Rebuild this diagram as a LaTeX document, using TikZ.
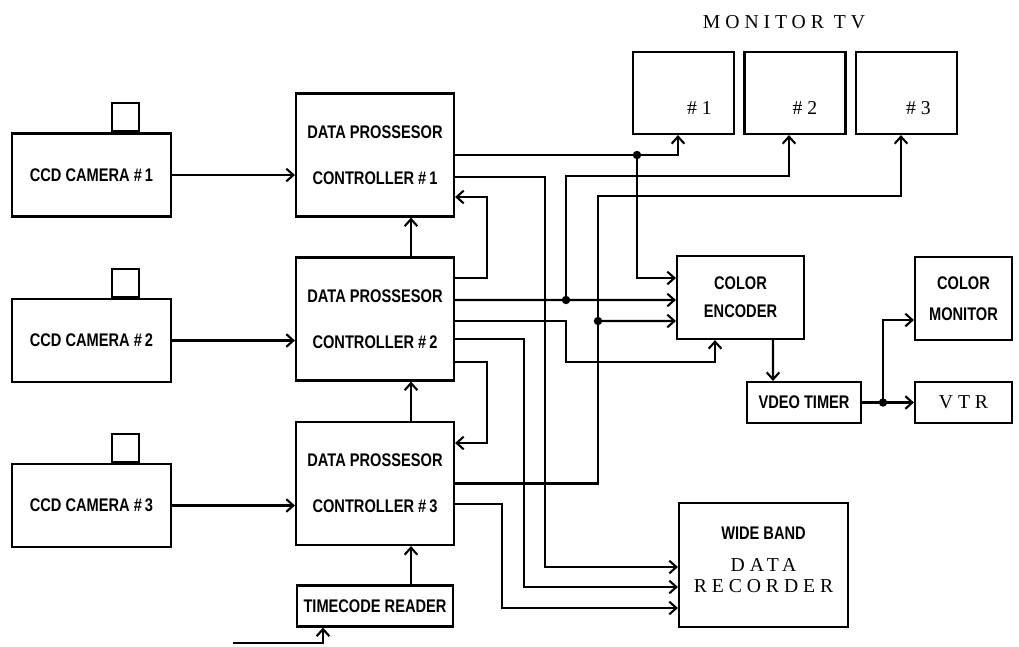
\documentclass[tikz,border=0pt]{standalone}
\usepackage{fontspec}
\setmainfont{Liberation Sans}
\newfontfamily\blockfont[FakeStretch=0.8]{Liberation Sans}
\newfontfamily\spacedfont[LetterSpace=25]{Liberation Serif}
\newcommand\tvfont{\spacedfont\mdseries\fontsize{14pt}{16pt}\selectfont}
\usetikzlibrary{calc}
\usetikzlibrary{arrows.meta}

\begin{document}
\begin{tikzpicture}[x=0.025cm, y=-0.025cm,
  line width=1.5pt,
  blk/.style={draw, inner sep=0pt, align=center, font=\blockfont\bfseries\fontsize{13pt}{15pt}\selectfont},
  cam/.style={blk, minimum width=3.975cm, minimum height=2.075cm},
  lens/.style={draw, inner sep=0pt, minimum width=0.675cm, minimum height=0.7cm},
  dps/.style={blk, minimum width=3.95cm, minimum height=3.075cm},
  slim/.style={blk, minimum height=1.025cm},
  tv/.style={draw, inner sep=0pt, minimum width=2.525cm, minimum height=2.05cm},
  sp/.style={inner sep=0pt, font=\tvfont},
  ar/.style={-{Straight Barb[length=5pt,width=9pt]}},
  dot/.style={circle, fill, inner sep=0pt, minimum size=6pt}
]
\useasboundingbox (0,0) rectangle (1019,646);

\node[sp] (title) at (784,22) {MONITOR TV};

\node[cam] (cam1) at (91.5,175)   {CCD CAMERA \#\,1};
\node[cam] (cam2) at (91.5,340.5) {CCD CAMERA \#\,2};
\node[cam] (cam3) at (91.5,505.5) {CCD CAMERA \#\,3};
\node[lens, anchor=south] (lens1) at ($(cam1.north)+(34,0)$) {};
\node[lens, anchor=south] (lens2) at ($(cam2.north)+(34,0)$) {};
\node[lens, anchor=south] (lens3) at ($(cam3.north)+(34,0)$) {};

\node[dps] (dp1) at (375,155)   {DATA PROSSESOR\\[18pt]CONTROLLER \#\,1};
\node[dps] (dp2) at (375,319)   {DATA PROSSESOR\\[18pt]CONTROLLER \#\,2};
\node[dps] (dp3) at (375,483.5) {DATA PROSSESOR\\[18pt]CONTROLLER \#\,3};
\node[slim, minimum width=3.9cm] (tr) at (375,606) {TIMECODE READER};

\draw[ar] (cam1.east) -- (cam1.east -| dp1.west);
\draw[ar] (cam2.east) -- (cam2.east -| dp2.west);
\draw[ar] (cam3.east) -- (cam3.east -| dp3.west);
\draw[ar] ($(dp2.north)+(36,0)$) -- ($(dp1.south)+(36,0)$);
\draw[ar] ($(dp3.north)+(36,0)$) -- ($(dp2.south)+(36,0)$);
\draw[ar] ($(tr.north)+(36,0)$) -- ($(dp3.south)+(36,0)$);
\coordinate (tcin) at (233,643);
\draw[ar] (tcin) -| ($(tr.south)+(-52,0)$);

\node[tv] (m1) at (683.5,93) {};
\node[tv] (m2) at (795,93)   {};
\node[tv] (m3) at (906.5,93) {};
\node[sp] (m1l) at ($(m1)+(16,15)$) {\#1};
\node[sp] (m2l) at ($(m2)+(10,15)$) {\#2};
\node[sp] (m3l) at ($(m3)+(12,15)$) {\#3};

\node[blk, minimum width=3.175cm, minimum height=2.075cm] (enc) at (740.5,297.5) {COLOR\\[5pt]ENCODER};
\node[slim, minimum width=2.85cm] (timer) at (804,402.5) {VDEO TIMER};
\node[blk, minimum width=2.425cm, minimum height=2.075cm] (cmon) at (963.5,298.5) {COLOR\\[7pt]MONITOR};
\node[slim, minimum width=2.425cm, font=\tvfont] (vtr) at (963.5,402.5) {VTR};
\node[blk, minimum width=4.225cm, minimum height=3.1cm] (rec) at (763.5,565) {};
\node[blk, draw=none] (rectxt) at (763.5,560)
  {WIDE BAND\\[8pt]{\tvfont DATA}\\[0pt]{\tvfont RECORDER}};

\node[dot] (j1) at (637,155) {};
\node[dot] (j2) at (566,300) {};
\node[dot] (j3) at (598,321) {};
\node[dot] (j4) at (883,402.5) {};

\draw[ar] (dp1.east) -| ($(m1.south)+(-5.5,0)$);
\draw[ar] (j1.center) |- ($(enc.west)+(0,-19.5)$);
\draw[ar] ($(dp1.east)+(0,22)$) -| (545,400) |- ($(rec.west)+(0,2)$);

\draw[ar] ($(dp2.east)+(0,-41)$) -| (487,240) |- ($(dp1.east)+(0,42)$);
\draw[ar] ($(dp2.east)+(0,-19)$) -- ($(enc.west)+(0,2.5)$);
\draw[ar] (j2.center) -- (566,176) -| ($(m2.south)+(-6,0)$);
\draw[ar] ($(dp2.east)+(0,2)$) -| (566,362) -| ($(enc.south)+(-25.5,0)$);
\draw[ar] ($(dp2.east)+(0,20)$) -| (524,500) |- ($(rec.west)+(0,22)$);
\draw[ar] ($(dp2.east)+(0,43)$) -| (487,400) |- ($(dp3.east)+(0,-40.5)$);

\draw[ar] (dp3.east) -| (598,196) -| ($(m3.south)+(-5.5,0)$);
\draw[ar] (j3.center) -- ($(enc.west)+(0,23.5)$);
\draw[ar] ($(dp3.east)+(0,20.5)$) -| (502,550) |- ($(rec.west)+(0,43)$);

\draw[ar] ($(enc.south)+(32.5,0)$) -- ($(timer.north)+(-31,0)$);
\draw[ar] (timer.east) -- (vtr.west);
\draw[ar] (j4.center) |- ($(cmon.west)+(0,21.5)$);
\end{tikzpicture}
\end{document}
